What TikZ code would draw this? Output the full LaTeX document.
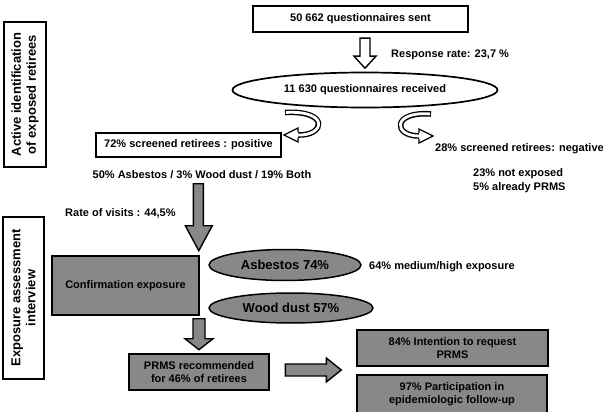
\documentclass[tikz,border=0pt]{standalone}
\usepackage{fontspec}
\setmainfont{Liberation Sans}
\usetikzlibrary{calc,shapes.geometric}
\definecolor{boxgray}{RGB}{136,136,136}
\begin{document}
\begin{tikzpicture}[x=1pt,y=-1pt,
  txt/.style={font=\fontsize{11}{13}\selectfont\bfseries, inner sep=0pt},
  bigtxt/.style={font=\fontsize{13}{15}\selectfont\bfseries, inner sep=0pt},
  wbox/.style={draw, line width=2.4pt, fill=white, txt, align=center},
  gbox/.style={draw, line width=2.6pt, fill=boxgray, txt, align=center},
  sidelabel/.style={draw, line width=2.8pt, bigtxt, align=center, rotate=90},
  wellipse/.style={draw, ellipse, line width=1.7pt, fill=white, txt, inner sep=0pt},
  gellipse/.style={draw, ellipse, line width=1.5pt, fill=boxgray, bigtxt, inner sep=0pt},
  blockarrow/.style={draw, line width=1.4pt, line join=miter},
  ribbon/.style={line width=5.6pt, black},
  ribboninner/.style={line width=2.8pt, white, shorten <=0.9pt},
  label/.style={txt, anchor=west}
]
\useasboundingbox (0,0) rectangle (606,412);

% side labels
\node[sidelabel, minimum width=145pt, minimum height=42pt] (lab1) at (25,94.5) {Active identification\\of exposed retirees};
\node[sidelabel, minimum width=162pt, minimum height=41pt] (lab2) at (23.5,298) {Exposure assessment\\interview};

% top part
\node[wbox, minimum width=215pt, minimum height=26pt] (sent) at (360.5,19) {50 662 questionnaires sent};
\node[wellipse, minimum width=265pt, minimum height=35pt] (recv) at (365,90) {11 630 questionnaires received};
\node[wbox, minimum width=185pt, minimum height=24pt] (pos) at (188.5,145) {72\% screened retirees : positive};

\node[label] (rate) at (391,55) {Response rate: 23,7 \%};
\node[txt] (posdet) at (202,175) {50\% Asbestos / 3\% Wood dust / 19\% Both};
\node[label] (neg) at (435,149) {28\% screened retirees: negative};
\node[label, align=left, font=\fontsize{11}{14}\selectfont\bfseries] (negdet) at (473,181) {23\% not exposed\\5\% already PRMS};
\node[label] (visits) at (65,213) {Rate of visits : 44,5\%};

% bottom part
\node[gbox, minimum width=147pt, minimum height=59pt] (conf) at (125.5,285.5) {Confirmation exposure};
\node[gellipse, minimum width=152pt, minimum height=31pt] (asb) at (285,265) {Asbestos 74\%};
\node[gellipse, minimum width=164pt, minimum height=30pt] (wood) at (291,308) {Wood dust 57\%};
\node[label] (medhigh) at (369,267) {64\% medium/high exposure};
\node[gbox, minimum width=140pt, minimum height=36pt] (prms) at (199,372) {PRMS recommended\\for 46\% of retirees};
\node[gbox, minimum width=191pt, minimum height=36pt] (intent) at (452.5,348) {84\% Intention to request\\PRMS};
\node[gbox, minimum width=190pt, minimum height=38pt] (follow) at (452,394) {97\% Participation in\\epidemiologic follow-up};

% white block arrow sent -> received
\draw[blockarrow, fill=white, shift={($(sent.south)+(4.5,0)$)}]
  (-5,5) -- (5,5) -- (5,23) -- (11,23) -- (0,35) -- (-11,23) -- (-5,23) -- cycle;

% curved arrows from received
\begin{scope}[shift={(recv.center)}]
  \draw[ribbon] (-80,22.5) .. controls (-35,20) and (-40,46) .. (-67,45);
  \draw[ribboninner] (-80,22.5) .. controls (-35,20) and (-40,46) .. (-67,45);
  \fill[white] (-67,38) -- (-81,45) -- (-67,52) -- cycle;
  \draw[line width=1.3pt, line join=miter] (-67,42) -- (-67,38) -- (-81,45) -- (-67,52) -- (-67,48);
  \draw[ribbon] (66,24) .. controls (27,21) and (28,46) .. (54,46);
  \draw[ribboninner] (66,24) .. controls (27,21) and (28,46) .. (54,46);
  \fill[white] (54,39) -- (68,46) -- (54,53) -- cycle;
  \draw[line width=1.3pt, line join=miter] (54,43) -- (54,39) -- (68,46) -- (54,53) -- (54,49);
\end{scope}

% gray block arrow positive -> confirmation
\draw[blockarrow, fill=boxgray, shift={(conf.north east)}]
  (-7,-71) -- (3,-71) -- (3,-29) -- (12,-29) -- (-1.5,-4) -- (-15,-29) -- (-7,-29) -- cycle;

% gray block arrow confirmation -> prms
\draw[blockarrow, fill=boxgray, shift={(prms.north)}]
  (-6,-34) -- (6,-34) -- (6,-14) -- (14,-14) -- (0,-3) -- (-14,-14) -- (-6,-14) -- cycle;

% gray block arrow prms -> results
\draw[blockarrow, fill=boxgray, shift={(prms.east)}]
  (15,-8) -- (56,-8) -- (56,-14) -- (71,-2) -- (56,10) -- (56,4) -- (15,4) -- cycle;
\end{tikzpicture}
\end{document}
